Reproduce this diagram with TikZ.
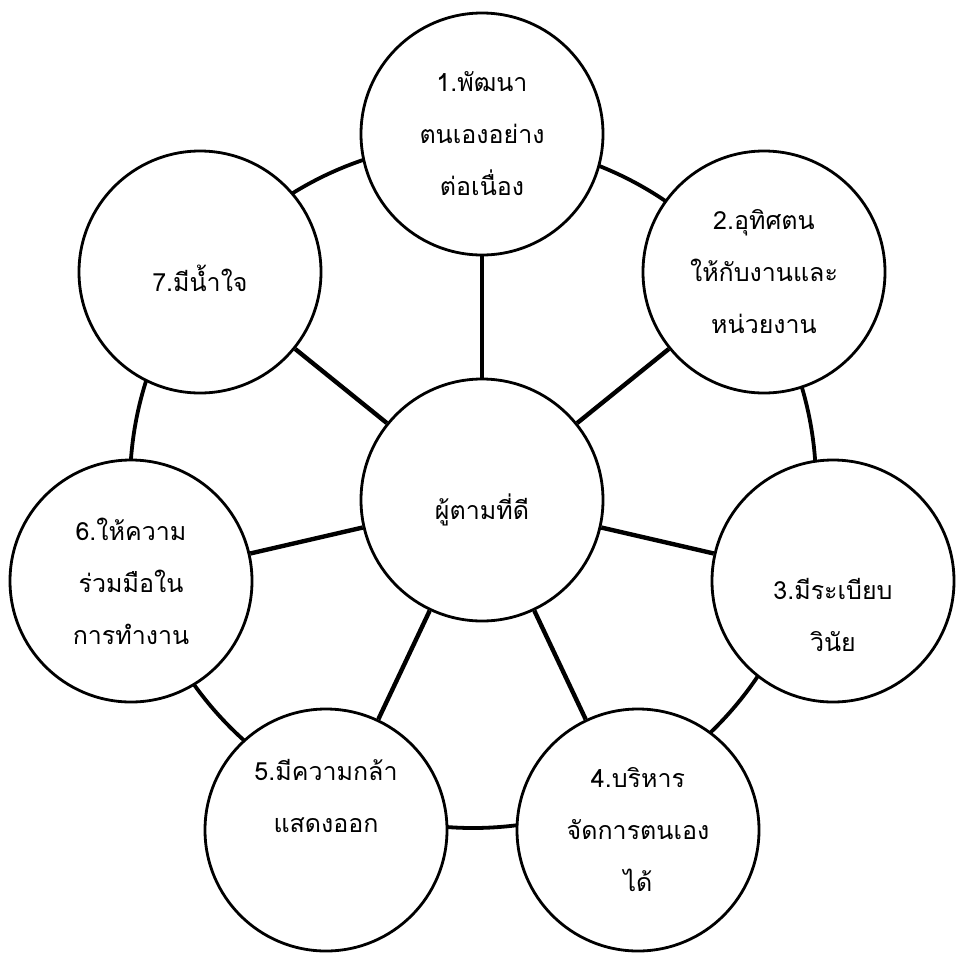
\documentclass[tikz,border=0pt]{standalone}
\usepackage{fontspec}
\newfontfamily\thaifont[Script=Thai]{Loma}
\usetikzlibrary{backgrounds}
\newcommand{\lowertext}[2]{\raisebox{-#1}[\height][\depth]{#2}}
\begin{document}
\begin{tikzpicture}[x=1pt,y=-1pt,
  bubble/.style={circle, draw, line width=2.8pt, fill=white, minimum size=242pt,
    inner sep=0pt, align=center, font=\thaifont\fontsize{25}{52}\selectfont},
  spoke/.style={line width=4.4pt},
  ring/.style={line width=3.8pt}]
\useasboundingbox (0,0) rectangle (956,956);
\node[bubble] (c)  at (482,500)   {\lowertext{10pt}{ผู้ตามที่ดี}};
\node[bubble] (o1) at (482,134)   {1.พัฒนา\\ตนเองอย่าง\\ต่อเนื่อง};
\node[bubble] (o2) at (764,272)   {2.อุทิศตน\\ให้กับงานและ\\หน่วยงาน};
\node[bubble] (o3) at (833,581)   {\strut\\3.มีระเบียบ\\วินัย};
\node[bubble] (o4) at (638,830)   {4.บริหาร\\จัดการตนเอง\\ได้};
\node[bubble] (o5) at (326,830)   {5.มีความกล้า\\แสดงออก\\\strut};
\node[bubble] (o6) at (131,581)   {6.ให้ความ\\ร่วมมือใน\\การทำงาน};
\node[bubble] (o7) at (200,272)   {\lowertext{6pt}{7.มีน้ำใจ}};
\coordinate (ringc) at (473,485);
\begin{scope}[on background layer]
  \fill[white] (0,0) rectangle (956,956);
  \draw[ring] (ringc) circle[radius=343];
  \foreach \k in {1,...,7} \draw[spoke] (c) -- (o\k);
\end{scope}
\end{tikzpicture}
\end{document}
